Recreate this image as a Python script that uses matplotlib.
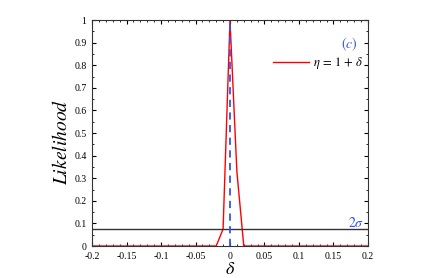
import matplotlib.pyplot as plt
import numpy as np
from matplotlib.ticker import MultipleLocator

plt.rcParams["font.family"] = ["Liberation Serif", "DejaVu Serif"]
plt.rcParams["mathtext.fontset"] = "stix"

# likelihood curve for eta = 1 + delta
delta = [-0.2, -0.02, -0.01, 0.0, 0.01, 0.02, 0.2]
likelihood = [0.0, 0.0, 0.075, 1.0, 0.33, 0.0, 0.0]
two_sigma = 0.075

fig = plt.figure(figsize=(4.47, 2.78), dpi=100)
ax = fig.add_axes([0.206, 0.115, 0.617, 0.813])

ax.plot(delta, likelihood, color="red", lw=1.0, label=r"$\eta\,=\,1\,+\,\delta$")
ax.axhline(two_sigma, color="#333333", lw=1.0)
ax.plot([0, 0], [0, 1], color="#3355ee", ls=(0, (4, 3)), lw=1.3)

ax.set_xlim(-0.2, 0.2)
ax.set_ylim(0, 1)
ax.xaxis.set_major_locator(MultipleLocator(0.05))
ax.xaxis.set_minor_locator(MultipleLocator(0.01))
ax.yaxis.set_major_locator(MultipleLocator(0.1))
ax.yaxis.set_minor_locator(MultipleLocator(0.05))
ax.set_xticklabels([f"{v:g}" for v in ax.get_xticks()])
ax.set_yticklabels([f"{v:g}" for v in ax.get_yticks()])
ax.tick_params(which="both", direction="in", top=True, right=True, labelsize=7, pad=4)
ax.tick_params(which="major", length=3)
ax.tick_params(which="minor", length=1.5)
for s in ax.spines.values():
    s.set_color("#333333")

ax.set_xlabel(r"$\delta$", fontsize=13, labelpad=0)
ax.set_ylabel(r"$Likelihood$", fontsize=14)
ax.yaxis.set_label_coords(-0.078, 0.46)

ax.text(0.185, 0.875, r"$(c)$", color="#3355ee", fontsize=10, ha="right")
ax.text(0.195, 0.085, r"$2\sigma$", color="#3355ee", fontsize=10, ha="right")
ax.legend(loc="upper right", bbox_to_anchor=(1.025, 0.895), frameon=False, fontsize=9,
          handlelength=2.9, handletextpad=0.3)

fig.savefig("out.png", dpi=100)
